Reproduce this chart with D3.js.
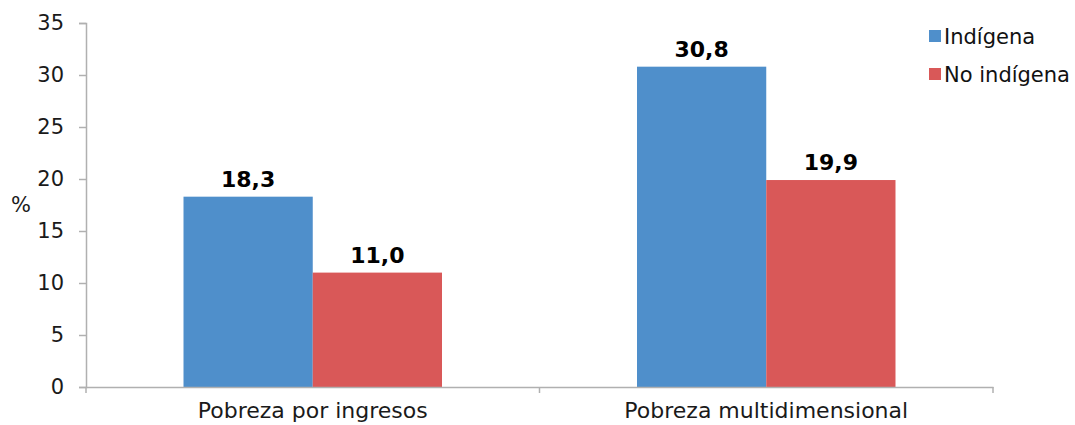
<!DOCTYPE html>
<html>
<head>
<meta charset="utf-8">
<script src="https://cdn.jsdelivr.net/npm/d3@7"></script>
<style>
  body { margin: 0; background: #fff; }
  svg { display: block; }
  svg text { font-family: "DejaVu Sans", Verdana, sans-serif; }
</style>
</head>
<body>
<div class="chart-area"></div>
<script>
const categories = ['Pobreza por ingresos', 'Pobreza multidimensional']
const seriesNames = ['Indígena', 'No indígena']
const indigena = [18.3, 30.8]
const noIndigena = [11.0, 19.9]
const yTicks = [0, 5, 10, 15, 20, 25, 30, 35]
const colors = ['#4f8fcb', '#d95858']

const width = 1075
const height = 425
const margin = { top: 23, right: 82, bottom: 38, left: 86 }
const innerW = width - margin.left - margin.right
const innerH = height - margin.top - margin.bottom

const svg = d3.select('.chart-area')
  .append('svg')
  .attr('width', width)
  .attr('height', height)

const g = svg.append('g')
  .attr('transform', `translate(${margin.left},${margin.top})`)

const x0 = d3.scaleBand()
  .domain(categories)
  .range([0, innerW])
  .paddingInner(0.43)
  .paddingOuter(0.215)

const x1 = d3.scaleBand()
  .domain(seriesNames)
  .range([0, x0.bandwidth()])

const y = d3.scaleLinear()
  .domain([0, 35])
  .range([innerH, 0])

// y axis
const yAxis = g.append('g')
  .call(d3.axisLeft(y).tickValues(yTicks).tickSize(7).tickPadding(15))
yAxis.select('.domain').attr('stroke', '#b0b0b0').attr('stroke-width', 1.5)
yAxis.selectAll('.tick line').attr('stroke', '#b0b0b0').attr('stroke-width', 1.5)
yAxis.selectAll('.tick text')
  .attr('fill', '#1a1a1a')
  .style('font-size', '21px')

const rows = categories.map((c, i) => ({ cat: c, values: [indigena[i], noIndigena[i]] }))

// bars
const groups = g.selectAll('.grp')
  .data(rows)
  .enter().append('g')
  .attr('class', 'grp')
  .attr('transform', d => `translate(${x0(d.cat)},0)`)

groups.selectAll('rect')
  .data(d => d.values.map((v, j) => ({ name: seriesNames[j], v, j })))
  .enter().append('rect')
  .attr('x', d => x1(d.name))
  .attr('y', d => y(d.v))
  .attr('width', x1.bandwidth())
  .attr('height', d => innerH - y(d.v))
  .attr('fill', d => colors[d.j])

groups.selectAll('.val')
  .data(d => d.values.map((v, j) => ({ name: seriesNames[j], v, j })))
  .enter().append('text')
  .attr('class', 'val')
  .attr('x', d => x1(d.name) + x1.bandwidth() / 2)
  .attr('y', d => y(d.v) - 10)
  .attr('text-anchor', 'middle')
  .style('font-size', '22px')
  .style('font-weight', 'bold')
  .attr('fill', '#000')
  .text(d => d.v.toFixed(1).replace('.', ','))

// x axis
const xAxis = g.append('g')
  .attr('transform', `translate(0,${innerH})`)
  .call(d3.axisBottom(x0).tickSize(0).tickPadding(15))
xAxis.select('.domain').attr('stroke', '#b0b0b0').attr('stroke-width', 1.5)
xAxis.selectAll('.tick text')
  .attr('fill', '#1a1a1a')
  .style('font-size', '22px')

// category separators
const bounds = [0, innerW / 2, innerW]
xAxis.selectAll('.sep')
  .data(bounds)
  .enter().append('line')
  .attr('x1', d => d).attr('x2', d => d)
  .attr('y1', 0).attr('y2', 6)
  .attr('stroke', '#b0b0b0')
  .attr('stroke-width', 1.5)

// y label
svg.append('text')
  .attr('x', 21)
  .attr('y', 212)
  .attr('text-anchor', 'middle')
  .style('font-size', '21px')
  .attr('fill', '#1a1a1a')
  .text('%')

// legend
const legend = svg.append('g')
  .attr('transform', 'translate(929,28)')
seriesNames.forEach((name, i) => {
  const item = legend.append('g')
    .attr('transform', `translate(0,${i * 38})`)
  item.append('rect')
    .attr('x', 0).attr('y', 2)
    .attr('width', 12).attr('height', 12)
    .attr('fill', colors[i])
  item.append('text')
    .attr('x', 15)
    .attr('y', 16)
    .style('font-size', '21px')
    .attr('fill', '#111')
    .text(name)
})
</script>
</body>
</html>
